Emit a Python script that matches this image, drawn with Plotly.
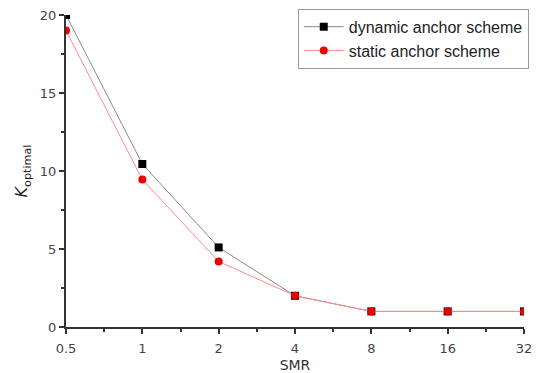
import plotly.graph_objects as go

smr = [0.5, 1, 2, 4, 8, 16, 32]
tick_labels = ["0.5", "1", "2", "4", "8", "16", "32"]
dynamic_k = [20, 10.45, 5.1, 2, 1, 1, 1]
static_k = [19, 9.45, 4.2, 2, 1, 1, 1]

minor_x = [0.7071, 1.4142, 2.8284, 5.6569, 11.3137, 22.6274]

fig = go.Figure()
fig.add_trace(go.Scatter(
    x=smr, y=dynamic_k, mode="lines+markers", name="dynamic anchor scheme",
    line=dict(color="#8a8a8a", width=1),
    marker=dict(symbol="square", size=8, color="black"),
))
fig.add_trace(go.Scatter(
    x=smr, y=static_k, mode="lines+markers", name="static anchor scheme",
    line=dict(color="#ff8a8a", width=1),
    marker=dict(symbol="circle", size=8, color="#ee0000"),
))

axis_font = dict(family="DejaVu Sans", size=13, color="#444444")
fig.update_layout(
    width=539, height=373,
    margin=dict(l=66, r=15, t=15, b=46, autoexpand=False),
    paper_bgcolor="white", plot_bgcolor="white",
    showlegend=True,
    legend=dict(
        x=0.506, y=1.02, xanchor="left", yanchor="top",
        bgcolor="white", bordercolor="#999999", borderwidth=1,
        font=dict(family="Liberation Sans", size=16, color="#222222"),
        tracegroupgap=0, itemwidth=40,
    ),
    xaxis=dict(
        type="log", range=[-0.30103, 1.50515],
        tickmode="array", tickvals=smr, ticktext=tick_labels,
        showgrid=False, zeroline=False,
        showline=True, linecolor="#333333", linewidth=2,
        ticks="outside", ticklen=5, tickwidth=1.5, tickcolor="#333333",
        tickfont=axis_font, ticklabelstandoff=3,
        minor=dict(tickmode="array", tickvals=minor_x, ticks="outside",
                   ticklen=3, tickcolor="#333333", showgrid=False),
        title=dict(text="SMR", font=dict(family="DejaVu Sans", size=14, color="#333333"), standoff=6),
    ),
    yaxis=dict(
        range=[0, 20], tickvals=[0, 5, 10, 15, 20],
        showgrid=False, zeroline=False,
        showline=True, linecolor="#333333", linewidth=2,
        ticks="outside", ticklen=5, tickwidth=1.5, tickcolor="#333333",
        tickfont=axis_font,
        minor=dict(tickvals=[2.5, 7.5, 12.5, 17.5], ticks="outside",
                   ticklen=3, tickcolor="#333333", showgrid=False),
        title=dict(text="<i>K</i><sub>optimal</sub>", font=dict(family="DejaVu Sans", size=16, color="#222222"), standoff=8),
    ),
)

fig.write_html("out.html")
